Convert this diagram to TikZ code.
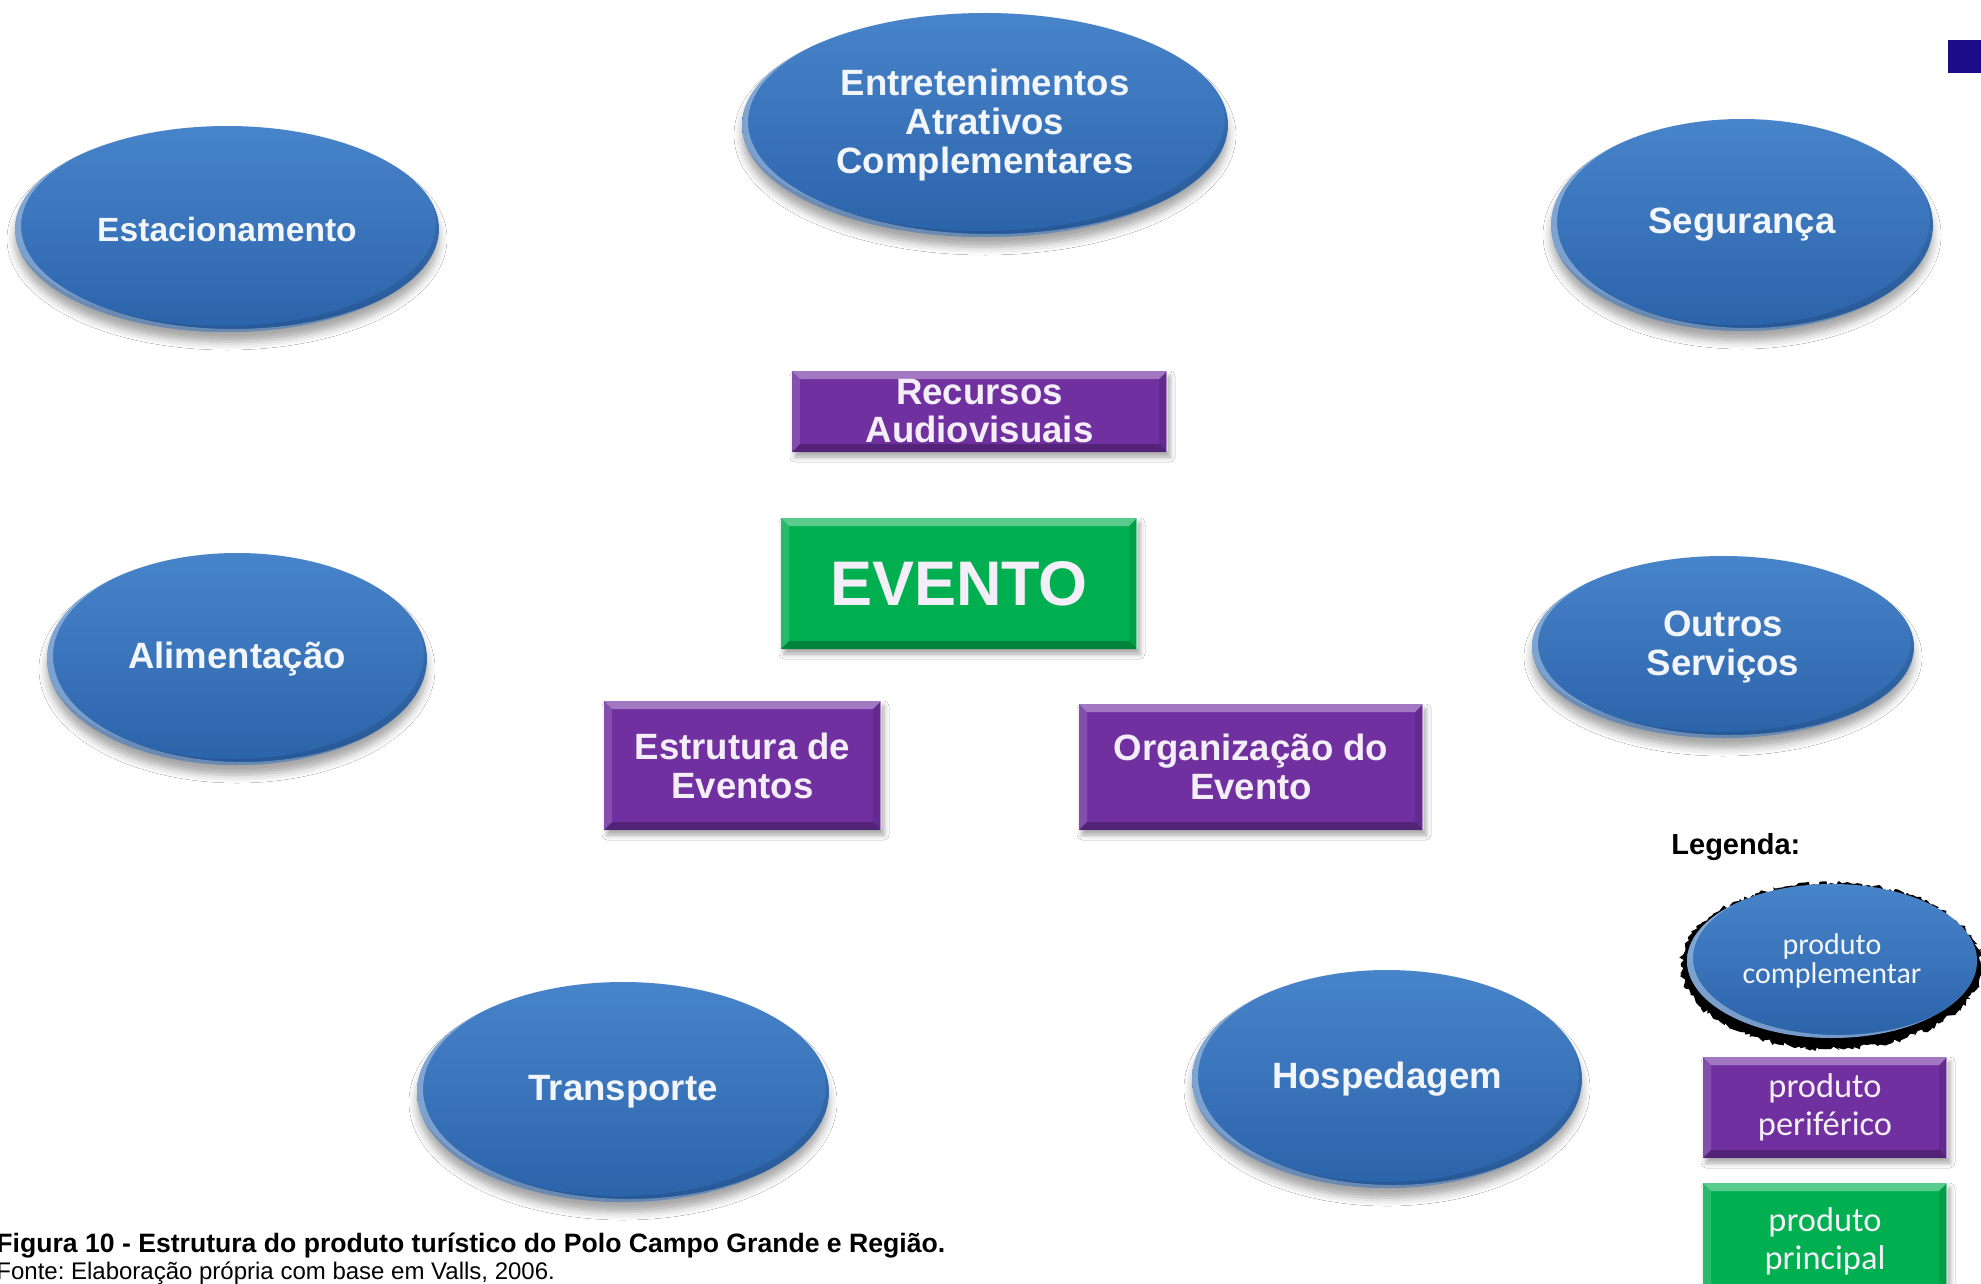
\documentclass[tikz,border=0pt]{standalone}
\usepackage{fontspec}
\setmainfont{Liberation Sans}
\newfontfamily\legfont{Carlito}
\usetikzlibrary{shapes.geometric,shadows.blur,decorations.pathmorphing}
\frenchspacing

\definecolor{ovaltop}{HTML}{4884CA}
\definecolor{ovalmid}{HTML}{3572BA}
\definecolor{ovalbot}{HTML}{2B63A9}
\definecolor{purp}{HTML}{7030A0}
\definecolor{grn}{HTML}{00B050}
\definecolor{ink}{HTML}{1C0C8A}
\definecolor{paletext}{HTML}{F4EEF8}
\definecolor{ovaltext}{HTML}{F2F6FB}

\tikzset{
  oval/.style={ellipse, inner sep=0pt, top color=ovaltop, middle color=ovalmid,
    bottom color=ovalbot, text=ovaltext, align=center},
  ovalshadow/.style={blur shadow={shadow xshift=0pt, shadow yshift=-5pt,
    shadow blur radius=4pt, shadow opacity=35}},
  bevel/.style={rectangle, inner sep=0pt, text=paletext, align=center,
    blur shadow={shadow xshift=1.5pt, shadow yshift=-2.5pt, shadow blur radius=2.5pt, shadow opacity=35}},
}

% blue glossy oval: name, cx, cy, rx, ry, font, text (pixel units)
\newcommand\blueoval[7]{%
  \node[oval, ovalshadow, minimum width=#4pt, minimum height=#5pt, font=#6] (#1) at (#2,#3) {#7};
  \begin{scope}
    \clip (#2,#3) ellipse [x radius=#4*0.5pt, y radius=#5*0.5pt];
    \fill[white, opacity=0.35, even odd rule]
      (#2,#3) ellipse [x radius=#4*0.5pt, y radius=#5*0.5pt]
      ({#2+6},{#3-3}) ellipse [x radius=#4*0.5pt, y radius=#5*0.5pt];
    \fill[black, opacity=0.10, even odd rule]
      (#2,#3) ellipse [x radius=#4*0.5pt, y radius=#5*0.5pt]
      ({#2-3},{#3-6}) ellipse [x radius=#4*0.5pt, y radius=#5*0.5pt];
  \end{scope}
}

% bevelled box: name, x1, y1, x2, y2, fill, font, text
\newcommand\bevelbox[8]{%
  \node[bevel, fill=#6, minimum width={(#4-#2)*0.5pt}, minimum height={(#5-#3)*0.5pt}, font=#7]
    (#1) at ({(#2+#4)/2},{(#3+#5)/2}) {#8};
  \fill[white, opacity=.35] (#2,#3) -- (#4,#3) -- ({#4-8},{#3+8}) -- ({#2+8},{#3+8}) -- cycle;
  \fill[white, opacity=.15] (#2,#3) -- ({#2+8},{#3+8}) -- ({#2+8},{#5-8}) -- (#2,#5) -- cycle;
  \fill[black, opacity=.25] (#2,#5) -- ({#2+8},{#5-8}) -- ({#4-8},{#5-8}) -- (#4,#5) -- cycle;
  \fill[black, opacity=.10] (#4,#3) -- ({#4-8},{#3+8}) -- ({#4-8},{#5-8}) -- (#4,#5) -- cycle;
  \draw[white, opacity=.45, line width=0.8pt] (#4,#3) -- (#4,#5);
}

\begin{document}
\begin{tikzpicture}[x=0.5pt, y=-0.5pt]
\useasboundingbox (0,0) rectangle (1981,1284);
\fill[white] (0,0) rectangle (1981,1284);

% small corner mark
\fill[ink] (1948,40) rectangle (1981,73);

% complementary products
\blueoval{ent}{985}{125}{243}{112}{\bfseries\fontsize{18.3}{19.5}\selectfont}{Entretenimentos\\Atrativos\\Complementares}
\blueoval{est}{227}{229}{212}{103}{\bfseries\fontsize{16.8}{19.5}\selectfont}{Estacionamento}
\blueoval{seg}{1742}{225}{191}{106}{\bfseries\fontsize{18.3}{19.5}\selectfont}{Segurança}
\blueoval{ali}{237}{659}{190}{106}{\bfseries\fontsize{18.3}{19.5}\selectfont}{Alimentação}
\blueoval{out}{1723}{647}{191}{91}{\bfseries\fontsize{18.3}{19.5}\selectfont}{Outros\\Serviços}
\blueoval{tra}{623}{1092}{206}{110}{\bfseries\fontsize{18.3}{19.5}\selectfont}{Transporte}
\blueoval{hos}{1387}{1079}{195}{109}{\bfseries\fontsize{18.3}{19.5}\selectfont}{Hospedagem}

% peripheral products
\bevelbox{rec}{792}{371}{1167}{452}{purp}{\bfseries\fontsize{18.3}{19}\selectfont}{Recursos\\Audiovisuais}
\bevelbox{estr}{604}{701}{881}{830}{purp}{\bfseries\fontsize{18.3}{19.5}\selectfont}{Estrutura de\\Eventos}
\bevelbox{org}{1079}{704}{1423}{830}{purp}{\bfseries\fontsize{18.3}{19.5}\selectfont}{Organização do\\Evento}

% main product
\bevelbox{evt}{781}{518}{1137}{649}{grn}{\bfseries\fontsize{31.5}{34}\selectfont\color{white}}{EVENTO}

% legend
\node[anchor=west, inner sep=0pt, font=\bfseries\fontsize{14.5}{17}\selectfont] (legt) at (1671,847) {Legenda:};
\fill[black, decorate, decoration={random steps, segment length=1.5pt, amplitude=1.3pt}]
  (1831,966) ellipse [x radius=150*0.5pt, y radius=83*0.5pt];
\node[oval, minimum width=145pt, minimum height=77pt, font=\legfont\fontsize{15}{14.5}\selectfont]
  (legc) at (1832,961) {produto\\complementar};
\begin{scope}
  \clip (1832,961) ellipse [x radius=145*0.5pt, y radius=77*0.5pt];
  \fill[white, opacity=0.35, even odd rule]
    (1832,961) ellipse [x radius=145*0.5pt, y radius=77*0.5pt]
    (1838,958) ellipse [x radius=145*0.5pt, y radius=77*0.5pt];
\end{scope}
\bevelbox{legp}{1703}{1057}{1947}{1158}{purp}{\legfont\fontsize{17.2}{19}\selectfont}{produto\\periférico}
\bevelbox{legg}{1703}{1183}{1947}{1300}{grn}{\legfont\fontsize{17.2}{19}\selectfont}{produto\\principal}

% caption
\node[anchor=base west, inner sep=0pt, font=\bfseries\fontsize{13.3}{15}\selectfont] (cap)
  at (-4,1252) {Figura 10 - Estrutura do produto turístico do Polo Campo Grande e Região.};
\node[anchor=base west, inner sep=0pt, font=\fontsize{12}{14}\selectfont] (src)
  at (-4,1279) {Fonte: Elaboração própria com base em Valls, 2006.};
\end{tikzpicture}
\end{document}
